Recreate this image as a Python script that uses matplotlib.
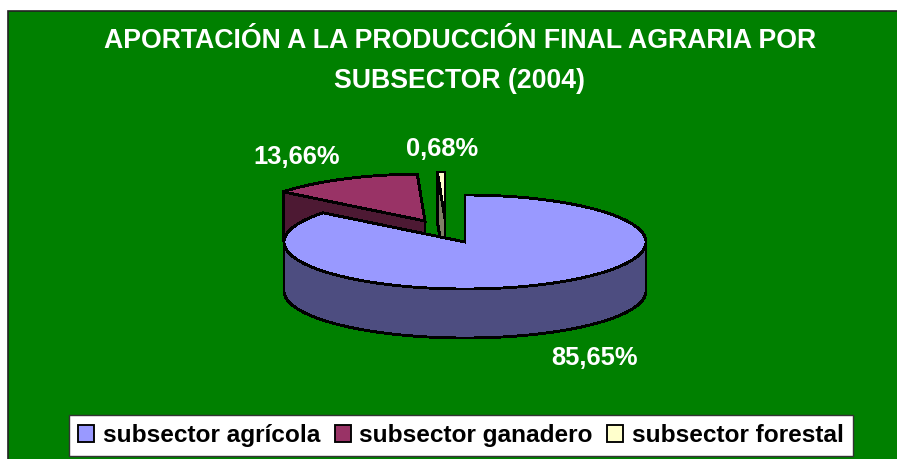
import numpy as np
import matplotlib
matplotlib.use('Agg')
import matplotlib.pyplot as plt
from matplotlib.patches import Polygon, Rectangle, Patch

plt.rcParams['font.family'] = ['Liberation Sans', 'DejaVu Sans']

# Datos
categorias = ['subsector agrícola', 'subsector ganadero', 'subsector forestal']
valores = [85.65, 13.66, 0.68]
etiquetas = ['85,65%', '13,66%', '0,68%']
titulo = 'APORTACIÓN A LA PRODUCCIÓN FINAL AGRARIA POR\nSUBSECTOR (2004)'

colores = ['#9999FF', '#993366', '#FFFFCC']
colores_lado = ['#4D4D80', '#4D1933', '#808066']

# Geometría del pastel en píxeles
cx, cy = 465, 242
rx, ry = 181, 47
alto = 49
desplaz = [(0, 0), (-40, -21), (-20, -23)]
pos_etiquetas = [(595, 358), (297, 157), (442, 149)]
VERDE = '#008000'
GROSOR = 1.35


def punto(a, ox, oy, dy=0):
    # a en grados, sentido horario desde arriba
    r = np.radians(a)
    return np.column_stack([cx + ox + rx * np.sin(r), cy + oy + dy - ry * np.cos(r)])


def arco(a1, a2, ox, oy, dy=0):
    n = max(int(abs(a2 - a1)) * 2, 2)
    return punto(np.linspace(a1, a2, n), ox, oy, dy)


fig = plt.figure(figsize=(8.97, 4.59), dpi=100, facecolor='white')
ax = fig.add_axes([0, 0, 1, 1])
ax.set_xlim(0, 897)
ax.set_ylim(459, 0)
ax.axis('off')

# Fondo verde
ax.add_patch(Rectangle((7.5, 10.5), 895, 455, facecolor=VERDE, edgecolor='#222222', lw=1.2))

angulos = np.cumsum([0] + valores) / sum(valores) * 360
estilo = dict(edgecolor='black', lw=GROSOR, joinstyle='miter', antialiased=False)

# Ganadero: cara de corte y parte superior
ox, oy = desplaz[1]
a1, a2 = angulos[1], angulos[2]
vert = np.array([cx + ox, cy + oy])
borde = punto(np.array([a1]), ox, oy)[0]
ax.add_patch(Polygon([borde, vert, vert + [0, alto], borde + [0, alto]],
                     facecolor=colores_lado[1], **estilo))
ax.add_patch(Polygon(np.vstack([vert, arco(a1, a2, ox, oy)]), facecolor=colores[1], **estilo))

# Forestal
ox, oy = desplaz[2]
a1, a2 = angulos[2], angulos[3]
vert = np.array([cx + ox, cy + oy])
borde = punto(np.array([a1]), ox, oy)[0]
ax.add_patch(Polygon(np.vstack([vert, arco(a1, a2, ox, oy)]), facecolor=colores[2], **estilo))
ax.add_patch(Polygon([borde, vert, vert + [0, alto], borde + [0, alto]],
                     facecolor=colores_lado[2], **estilo))

# Agrícola: pared y parte superior
a1, a2 = angulos[0], angulos[1]
pared = np.vstack([arco(90, 270, 0, 0), arco(270, 90, 0, 0, alto)])
ax.add_patch(Polygon(pared, facecolor=colores_lado[0], **estilo))
ax.add_patch(Polygon(np.vstack([[cx, cy], arco(a1, a2, 0, 0)]), facecolor=colores[0], **estilo))

# Textos
ax.text(460, 61, titulo, color='white', fontsize=19.2, fontweight='bold',
        ha='center', va='center', linespacing=1.66)
for (x, y), t in zip(pos_etiquetas, etiquetas):
    ax.text(x, y, t, color='white', fontsize=18.4, fontweight='bold', ha='center', va='center')

# Leyenda
manejadores = [Patch(facecolor=c, edgecolor='black', lw=GROSOR) for c in colores]
ley = ax.legend(manejadores, categorias, ncol=3, loc='center',
                bbox_to_anchor=(461, 435.5), bbox_transform=ax.transData,
                prop=dict(size=17.6, weight='bold'), fancybox=False, framealpha=1,
                edgecolor='#333333', handlelength=0.65, handleheight=0.65, handletextpad=0.35,
                columnspacing=0.6, borderpad=0.38, borderaxespad=0)
ley.get_frame().set_linewidth(1.0)
for t in ley.get_texts():
    t.set_color('black')

fig.savefig('out.png', dpi=100)
